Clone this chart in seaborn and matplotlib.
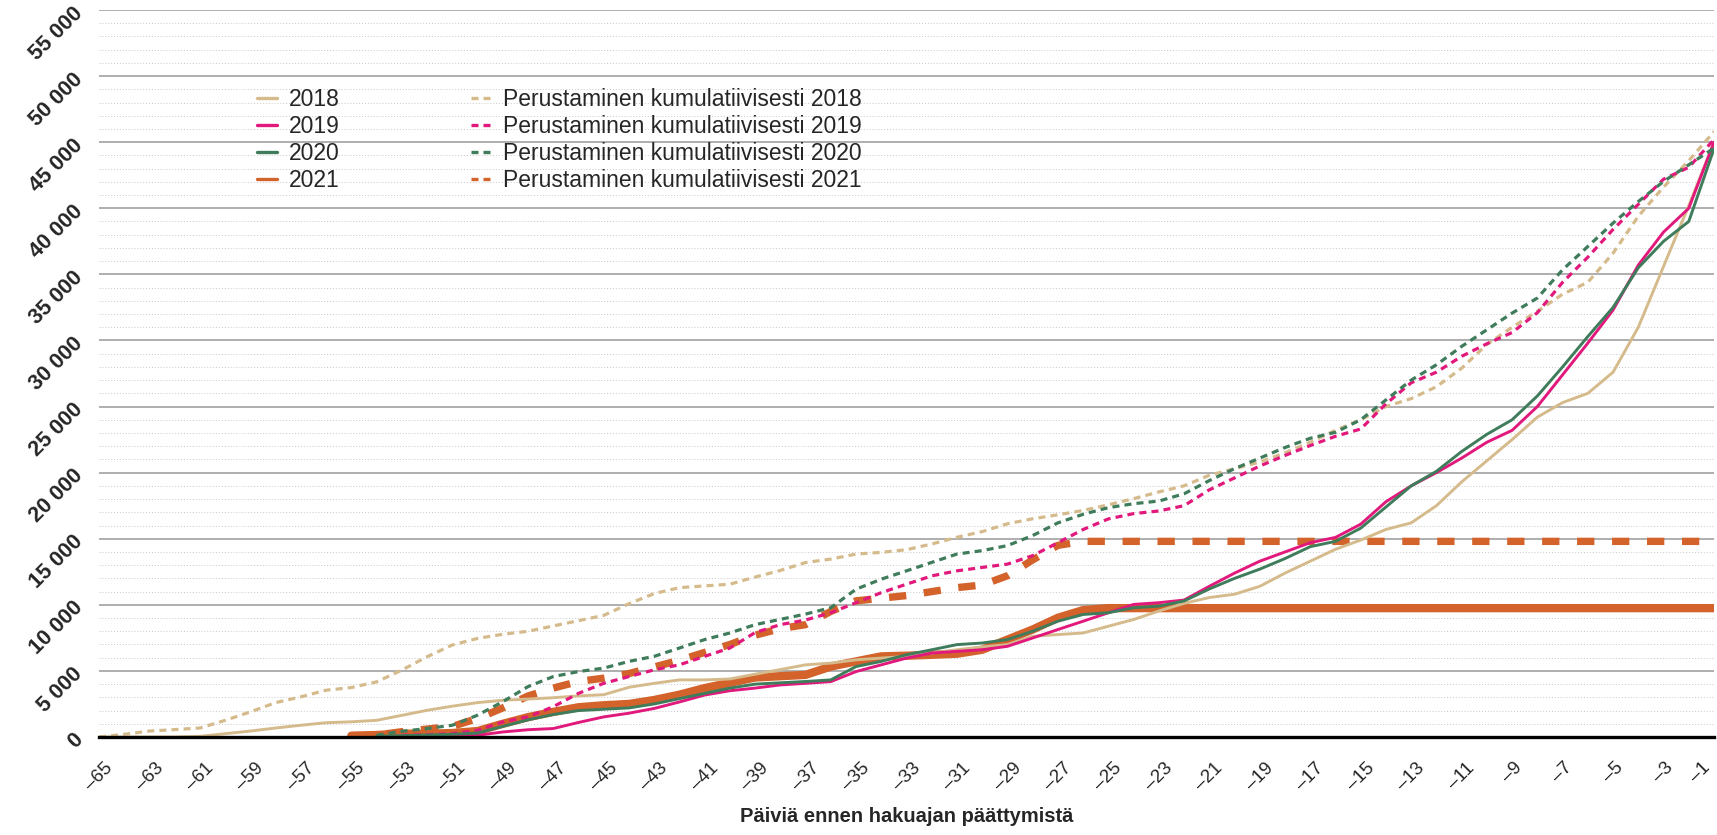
import matplotlib
matplotlib.use("Agg")
import matplotlib.pyplot as plt
from matplotlib.lines import Line2D
from matplotlib.ticker import MultipleLocator, FuncFormatter
import seaborn as sns

# Days before the application period ends
DAYS = list(range(-65, 0))

# Hakemukset (solid) per year, starting from each series' first day
hak_2018 = [0, 0, 0, 0, 50, 250, 450, 680, 890, 1080,
            1150, 1260, 1640, 2020, 2330, 2600, 2780, 2870, 2970, 3110,
            3200, 3760, 4060, 4320, 4320, 4390, 4750, 5100, 5460, 5590,
            5840, 5970, 6100, 6350, 6600, 6810, 6990, 7620, 7750, 7870,
            8380, 8890, 9530, 10110, 10550, 10800, 11400, 12400, 13300, 14200,
            14900, 15700, 16200, 17500, 19300, 20900, 22500, 24200, 25300, 26000,
            27600, 31000, 35600, 40200, 45000]
hak_2019 = [0, 50, 80, 130, 380, 550, 640, 1100, 1520, 1800,
            2160, 2650, 3175, 3500, 3700, 3940, 4060, 4190, 4950, 5460,
            5970, 6350, 6480, 6600, 6860, 7490, 8130, 8760, 9400, 10030,
            10160, 10360, 11400, 12400, 13300, 14000, 14700, 15100, 16100, 17800,
            19000, 20000, 21100, 22300, 23200, 25000, 27400, 29800, 32300, 35700,
            38200, 40000, 45000]
hak_2020 = [50, 100, 150, 200, 300, 800, 1300, 1700, 2000, 2100,
            2200, 2500, 2900, 3300, 3700, 4000, 4100, 4200, 4320, 5330,
            5720, 6220, 6600, 6990, 7110, 7370, 8000, 8760, 9270, 9400,
            9780, 9900, 10290, 11200, 12000, 12700, 13500, 14400, 14800, 15800,
            17400, 19000, 20100, 21600, 22900, 24000, 25800, 28000, 30300, 32500,
            35500, 37500, 39000, 44500]
hak_2021 = [100, 150, 250, 250, 300, 450, 1000, 1500, 1900, 2250,
            2400, 2500, 2800, 3200, 3700, 4100, 4500, 4600, 4700, 5330,
            5720, 6100, 6150, 6220, 6300, 6600, 7370, 8130, 9020, 9600,
            9750, 9750, 9750, 9750, 9750, 9750, 9750, 9750, 9750, 9750,
            9750, 9750, 9750, 9750, 9750, 9750, 9750, 9750, 9750, 9750,
            9750, 9750, 9750, 9750, 9750]

# Perustaminen kumulatiivisesti (dashed)
per_2018 = [0, 200, 450, 560, 680, 1260, 1900, 2600, 3040, 3540,
            3740, 4170, 5060, 6070, 6960, 7460, 7770, 8000, 8400, 8800,
            9200, 10080, 10850, 11300, 11430, 11560, 12100, 12600, 13200, 13460,
            13840, 13970, 14170, 14600, 15110, 15540, 16130, 16510, 16810, 17140,
            17570, 18030, 18540, 19000, 19800, 20300, 20800, 21500, 22300, 23200,
            24000, 25000, 25600, 26500, 27900, 29700, 31000, 32200, 33500, 34400,
            36600, 39400, 41600, 43600, 45800]
per_2019 = [130, 180, 250, 510, 1140, 1520, 2290, 3300, 4060, 4570,
            5080, 5460, 6100, 6730, 7900, 8500, 8850, 9400, 10160, 10920,
            11560, 12190, 12570, 12830, 13080, 13720, 14700, 15700, 16500, 16900,
            17100, 17500, 18700, 19600, 20500, 21300, 22050, 22750, 23300, 25200,
            26800, 27600, 28800, 29750, 30600, 32100, 34400, 36300, 38400, 40300,
            42200, 43100, 45200]
per_2020 = [130, 430, 640, 890, 1650, 2670, 3810, 4570, 4950, 5210,
            5720, 6100, 6730, 7370, 7870, 8500, 8900, 9300, 9780, 11180,
            11940, 12570, 13210, 13840, 14100, 14480, 15240, 16200, 16850, 17350,
            17650, 17850, 18400, 19400, 20300, 21100, 21900, 22600, 23050, 24000,
            25500, 27000, 28160, 29550, 30810, 32070, 33210, 35350, 37110, 38880,
            40510, 42030, 43290, 44550]
per_2021 = [50, 150, 400, 600, 800, 1400, 2200, 3100, 3700, 4200,
            4450, 4800, 5300, 5800, 6400, 7000, 7700, 8200, 8500, 9500,
            10300, 10500, 10700, 11000, 11300, 11500, 12200, 13400, 14500, 14800,
            14800, 14800, 14800, 14800, 14800, 14800, 14800, 14800, 14800, 14800,
            14800, 14800, 14800, 14800, 14800, 14800, 14800, 14800, 14800, 14800,
            14800, 14800, 14800, 14800, 14800]

YEARS = ["2018", "2019", "2020", "2021"]
COLORS = {"2018": "#D5BB8C", "2019": "#E2197C", "2020": "#3F7C5B", "2021": "#D3622B"}
solid = {"2018": hak_2018, "2019": hak_2019, "2020": hak_2020, "2021": hak_2021}
dashed = {"2018": per_2018, "2019": per_2019, "2020": per_2020, "2021": per_2021}

sns.set_style("white")
plt.rcParams["font.family"] = ["Liberation Sans", "DejaVu Sans"]

fig = plt.figure(figsize=(17.17, 8.35), dpi=100)
ax = fig.add_axes([99 / 1717, 98 / 835, 1615 / 1717, 727 / 835])

# 2021 first so the other years sit on top of it
for yr in ["2021", "2018", "2019", "2020"]:
    thick = yr == "2021"
    v = solid[yr]
    sns.lineplot(x=DAYS[-len(v):], y=v, ax=ax, color=COLORS[yr],
                 lw=6.0 if thick else 2.1, legend=False)
    v = dashed[yr]
    sns.lineplot(x=DAYS[-len(v):], y=v, ax=ax, color=COLORS[yr],
                 lw=5.3 if thick else 2.3,
                 linestyle=(0, (2.35, 2.4)) if thick else (0, (2.2, 1.6)),
                 legend=False)

ax.set_xlim(-65, -1)
ax.set_ylim(0, 55000)

ax.yaxis.set_major_locator(MultipleLocator(5000))
ax.yaxis.set_minor_locator(MultipleLocator(1000))
ax.yaxis.set_major_formatter(FuncFormatter(lambda v, p: f"{int(v):,}".replace(",", " ")))
ax.grid(True, which="major", axis="y", color="#a8a8a8", lw=1.3)
ax.grid(True, which="minor", axis="y", color="#c8c8c8", lw=0.7, linestyle=(0, (1, 2)))
ax.grid(False, axis="x")
ax.set_axisbelow(True)

ax.set_xticks(DAYS)
ax.set_xticklabels([f"–{abs(d)}" if d % 2 else "" for d in DAYS], rotation=45, fontsize=13.5)
ax.get_xticklabels()[-1].set_ha("right")
ax.tick_params(axis="x", direction="out", length=6, width=2.5, color="black", pad=10)
ax.tick_params(axis="y", which="both", length=0, pad=14)
for lab in ax.get_yticklabels():
    lab.set_rotation(45)
    lab.set_rotation_mode("anchor")
    lab.set_ha("right")
    lab.set_va("center")
    lab.set_fontsize(15.5)
    lab.set_fontweight("bold")

for s in ["top", "left", "right"]:
    ax.spines[s].set_visible(False)
ax.spines["bottom"].set_color("black")
ax.spines["bottom"].set_linewidth(2.4)

ax.set_xlabel("Päiviä ennen hakuajan päättymistä", fontsize=14.5, fontweight="bold", va="center")
ax.xaxis.set_label_coords(0.5, -0.109)
ax.set_ylabel("")

handles = [Line2D([], [], color=COLORS[y], lw=2.4) for y in YEARS]
handles += [Line2D([], [], color=COLORS[y], lw=2.4, linestyle=(0, (2.1, 1.5))) for y in YEARS]
labels = YEARS + [f"Perustaminen kumulatiivisesti {y}" for y in YEARS]
ax.legend(handles, labels, ncol=2, loc="upper left", bbox_to_anchor=(0.098, 0.893),
          frameon=False, fontsize=16.5, handlelength=0.85, handletextpad=0.55,
          columnspacing=5.7, labelspacing=0.18, borderpad=0, borderaxespad=0)

fig.savefig("out.png", dpi=100)
